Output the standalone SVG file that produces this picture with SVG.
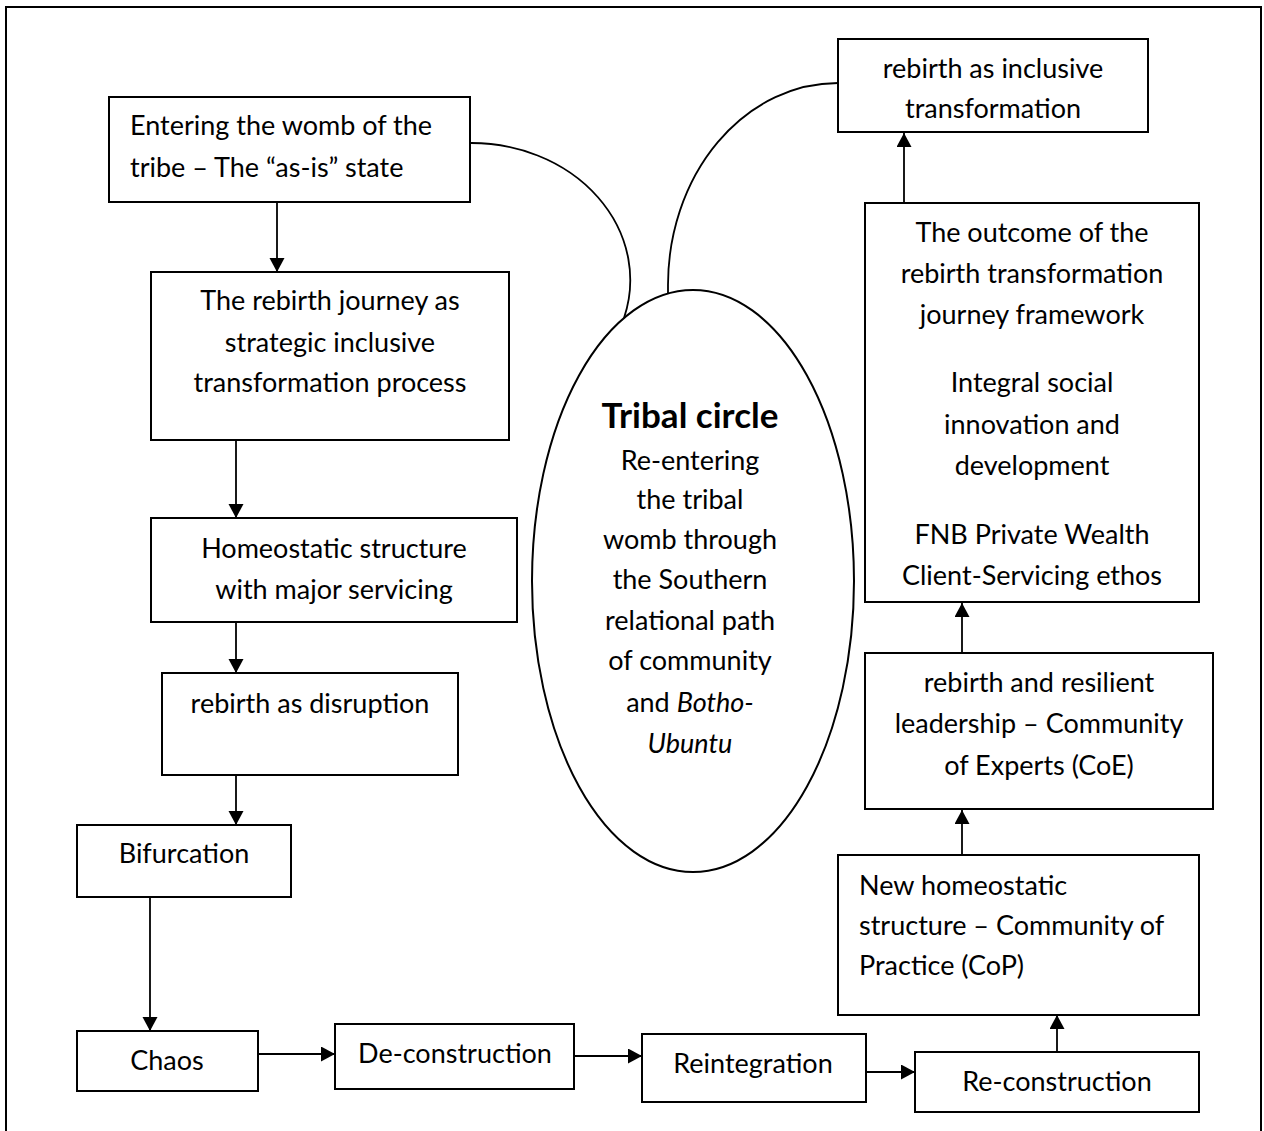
<svg xmlns="http://www.w3.org/2000/svg" width="1264" height="1131" viewBox="0 0 1264 1131">
  <style>
    .box { fill: #fff; stroke: #000; stroke-width: 2; }
    .frame { fill: none; stroke: #000; stroke-width: 2; }
    .t { font-family: Lato, "Open Sans", sans-serif; font-size: 27px; fill: #000; }
    .c { text-anchor: middle; }
    .b { font-weight: bold; font-size: 35px; }
    .i { font-style: italic; }
    .link { fill: none; stroke: #000; stroke-width: 1.8; }
    .arc { fill: none; stroke: #000; stroke-width: 1.8; }
  </style>
  <defs>
    <marker id="head" markerUnits="userSpaceOnUse" markerWidth="16" markerHeight="16" refX="14" refY="7.5" orient="auto">
      <path d="M0,0 L14,7.5 L0,15 z" fill="#000"/>
    </marker>
  </defs>

  <rect x="0" y="0" width="1264" height="1131" fill="#fff"/>
  <rect class="frame" x="6" y="7" width="1255" height="1140"/>

  <!-- curved links between the outer boxes and the tribal circle, plus the flow arrows -->
  <g id="connectors">
    <path class="arc" d="M470,143 A159,137 0 0 1 624,318"/>
    <path class="arc" d="M838,83 A170,202 0 0 0 668,285 L668,294"/>

    <line class="link" x1="277" y1="202" x2="277" y2="272" marker-end="url(#head)"/>
    <line class="link" x1="236" y1="440" x2="236" y2="518" marker-end="url(#head)"/>
    <line class="link" x1="236" y1="622" x2="236" y2="673" marker-end="url(#head)"/>
    <line class="link" x1="236" y1="775" x2="236" y2="825" marker-end="url(#head)"/>
    <line class="link" x1="150" y1="897" x2="150" y2="1031" marker-end="url(#head)"/>
    <line class="link" x1="258" y1="1054" x2="335" y2="1054" marker-end="url(#head)"/>
    <line class="link" x1="574" y1="1056" x2="642" y2="1056" marker-end="url(#head)"/>
    <line class="link" x1="866" y1="1072" x2="915" y2="1072" marker-end="url(#head)"/>
    <line class="link" x1="1057" y1="1052" x2="1057" y2="1015" marker-end="url(#head)"/>
    <line class="link" x1="962" y1="855" x2="962" y2="810" marker-end="url(#head)"/>
    <line class="link" x1="962" y1="653" x2="962" y2="603" marker-end="url(#head)"/>
    <line class="link" x1="904" y1="203" x2="904" y2="133" marker-end="url(#head)"/>
  </g>

  <g id="node-entering">
    <rect class="box" x="109" y="97" width="361" height="105"/>
    <text class="t" x="130" y="135">Entering the womb of the</text>
    <text class="t" x="130" y="177">tribe – The “as-is” state</text>
  </g>

  <g id="node-journey">
    <rect class="box" x="151" y="272" width="358" height="168"/>
    <text class="t c" x="330" y="310">The rebirth journey as</text>
    <text class="t c" x="330" y="352">strategic inclusive</text>
    <text class="t c" x="330" y="392">transformation process</text>
  </g>

  <g id="node-homeostatic">
    <rect class="box" x="151" y="518" width="366" height="104"/>
    <text class="t c" x="334" y="558">Homeostatic structure</text>
    <text class="t c" x="334" y="599">with major servicing</text>
  </g>

  <g id="node-disruption">
    <rect class="box" x="162" y="673" width="296" height="102"/>
    <text class="t c" x="310" y="713">rebirth as disruption</text>
  </g>

  <g id="node-bifurcation">
    <rect class="box" x="77" y="825" width="214" height="72"/>
    <text class="t c" x="184" y="863">Bifurcation</text>
  </g>

  <g id="node-chaos">
    <rect class="box" x="77" y="1031" width="181" height="60"/>
    <text class="t c" x="167" y="1070">Chaos</text>
  </g>

  <g id="node-deconstruction">
    <rect class="box" x="335" y="1024" width="239" height="65"/>
    <text class="t c" x="455" y="1063">De-construction</text>
  </g>

  <g id="node-reintegration">
    <rect class="box" x="642" y="1034" width="224" height="68"/>
    <text class="t c" x="753" y="1073">Reintegration</text>
  </g>

  <g id="node-reconstruction">
    <rect class="box" x="915" y="1052" width="284" height="60"/>
    <text class="t c" x="1057" y="1091">Re-construction</text>
  </g>

  <g id="node-new-homeostatic">
    <rect class="box" x="838" y="855" width="361" height="160"/>
    <text class="t" x="859" y="895">New homeostatic</text>
    <text class="t" x="859" y="935">structure – Community of</text>
    <text class="t" x="859" y="975">Practice (CoP)</text>
  </g>

  <g id="node-resilient">
    <rect class="box" x="865" y="653" width="348" height="156"/>
    <text class="t c" x="1039" y="692">rebirth and resilient</text>
    <text class="t c" x="1039" y="733">leadership – Community</text>
    <text class="t c" x="1039" y="775">of Experts (CoE)</text>
  </g>

  <g id="node-outcome">
    <rect class="box" x="865" y="203" width="334" height="399"/>
    <text class="t c" x="1032" y="242">The outcome of the</text>
    <text class="t c" x="1032" y="283">rebirth transformation</text>
    <text class="t c" x="1032" y="324">journey framework</text>
    <text class="t c" x="1032" y="392">Integral social</text>
    <text class="t c" x="1032" y="434">innovation and</text>
    <text class="t c" x="1032" y="475">development</text>
    <text class="t c" x="1032" y="544">FNB Private Wealth</text>
    <text class="t c" x="1032" y="585">Client-Servicing ethos</text>
  </g>

  <g id="node-inclusive">
    <rect class="box" x="838" y="39" width="310" height="93"/>
    <text class="t c" x="993" y="78">rebirth as inclusive</text>
    <text class="t c" x="993" y="118">transformation</text>
  </g>

  <g id="node-tribal-circle">
    <ellipse class="box" cx="693" cy="581" rx="161" ry="291"/>
    <text class="t c b" x="690" y="428">Tribal circle</text>
    <text class="t c" x="690" y="470">Re-entering</text>
    <text class="t c" x="690" y="509">the tribal</text>
    <text class="t c" x="690" y="549">womb through</text>
    <text class="t c" x="690" y="589">the Southern</text>
    <text class="t c" x="690" y="630">relational path</text>
    <text class="t c" x="690" y="670">of community</text>
    <text class="t c" x="690" y="712">and <tspan class="i">Botho-</tspan></text>
    <text class="t c i" x="690" y="753">Ubuntu</text>
  </g>
</svg>
